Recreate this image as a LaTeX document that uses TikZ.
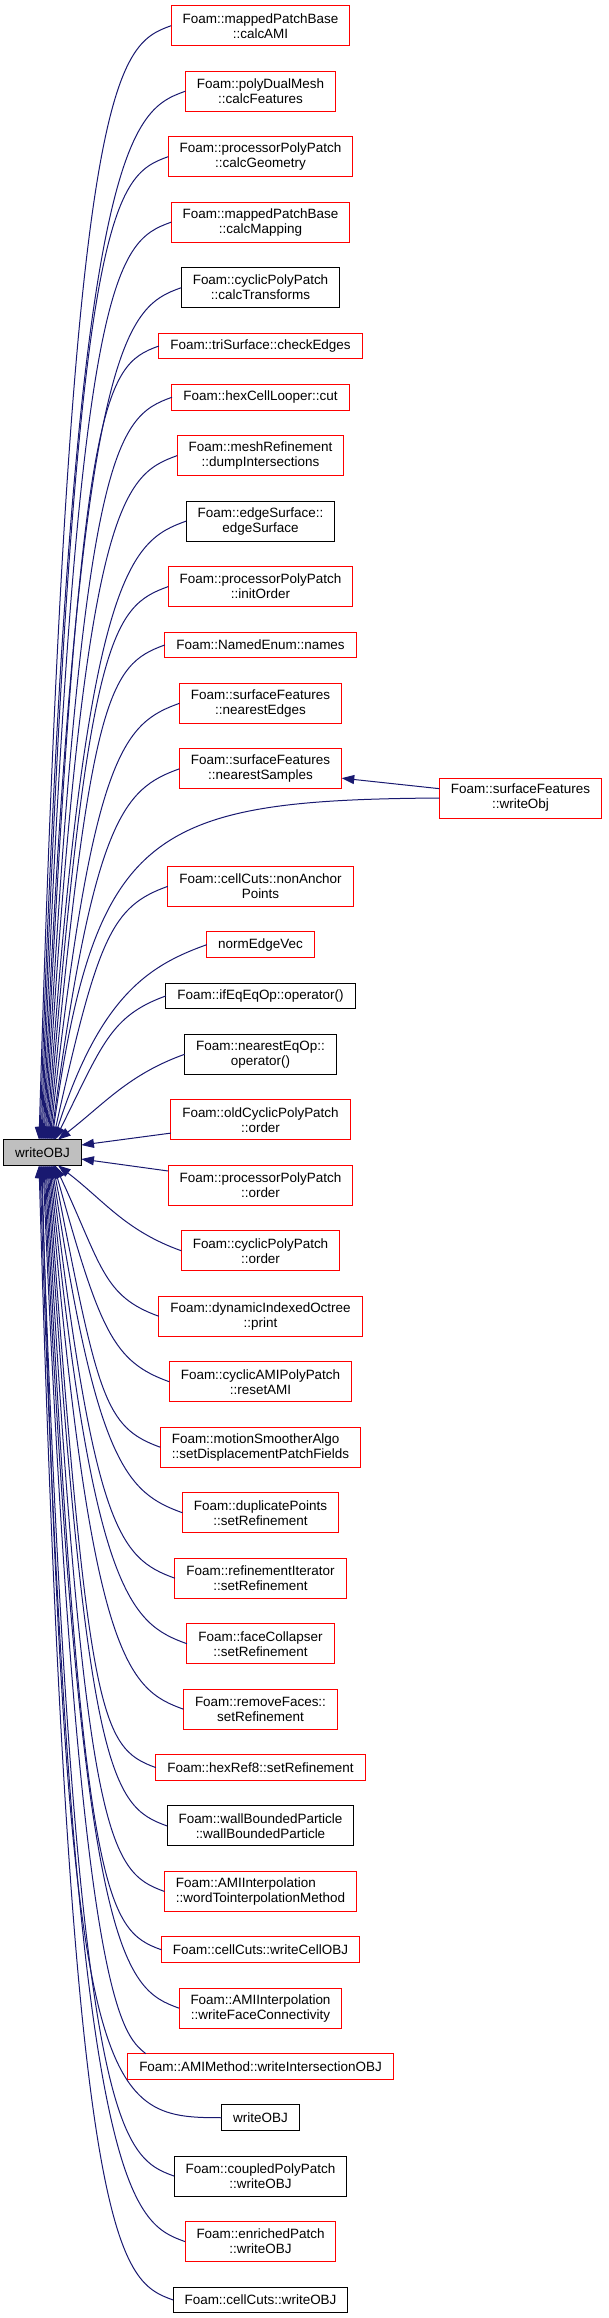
\documentclass[tikz,border=0pt]{standalone}
\usepackage{fontspec}
\setmainfont{Liberation Sans}
\usetikzlibrary{arrows.meta, positioning, calc}
\definecolor{edgeblue}{RGB}{25,25,112}
\definecolor{fnred}{RGB}{255,0,0}
\definecolor{fngray}{RGB}{191,191,191}

\begin{document}
\begin{tikzpicture}[x=0.75pt, y=-0.75pt,
  fn/.style={rectangle, draw=fnred, line width=0.75pt, inner xsep=8.6pt, inner ysep=2pt, minimum height=19.3pt, outer sep=0pt, align=center, font=\fontsize{10.1}{11.25}\selectfont},
  fndoc/.style={fn, draw=black},
  two/.style={minimum height=30pt},
  cur/.style={fn, draw=black, fill=fngray},
  arr/.style={-{Triangle[length=9.5pt, width=6.75pt]}, draw=edgeblue, line width=0.75pt}
]
\useasboundingbox (0,0) rectangle (608,2318);
\node[cur] (writeobj) at (42.5,1152.5) {writeOBJ};
\node[fn, two] (ami) at (260.5,25.7) {Foam::mappedPatchBase\\::calcAMI};
\node[fn, two, below=19.12pt of ami] (feat) {Foam::polyDualMesh\\::calcFeatures};
\node[fn, two, below=19.12pt of feat] (geom) {Foam::processorPolyPatch\\::calcGeometry};
\node[fn, two, below=19.12pt of geom] (map) {Foam::mappedPatchBase\\::calcMapping};
\node[fndoc, two, below=19.12pt of map] (trans) {Foam::cyclicPolyPatch\\::calcTransforms};
\node[fn, below=19.12pt of trans] (chk) {Foam::triSurface::checkEdges};
\node[fn, below=19.12pt of chk] (cut) {Foam::hexCellLooper::cut};
\node[fn, two, below=19.12pt of cut] (dump) {Foam::meshRefinement\\::dumpIntersections};
\node[fndoc, two, below=19.12pt of dump] (esurf) {Foam::edgeSurface::\\edgeSurface};
\node[fn, two, below=19.12pt of esurf] (init) {Foam::processorPolyPatch\\::initOrder};
\node[fn, below=19.12pt of init] (names) {Foam::NamedEnum::names};
\node[fn, two, below=19.12pt of names] (nedge) {Foam::surfaceFeatures\\::nearestEdges};
\node[fn, two, below=19.12pt of nedge] (nsamp) {Foam::surfaceFeatures\\::nearestSamples};
\node[fn, two, below=58.13pt of nsamp] (nanch) {Foam::cellCuts::nonAnchor\\Points};
\node[fn, below=19.12pt of nanch] (nev) {normEdgeVec};
\node[fndoc, below=19.12pt of nev] (ifeq) {Foam::ifEqEqOp::operator()};
\node[fndoc, two, below=19.12pt of ifeq] (neareq) {Foam::nearestEqOp::\\operator()};
\node[fn, two, below=19.12pt of neareq] (oldord) {Foam::oldCyclicPolyPatch\\::order};
\node[fn, two, below=19.12pt of oldord] (procord) {Foam::processorPolyPatch\\::order};
\node[fn, two, below=19.12pt of procord] (cycord) {Foam::cyclicPolyPatch\\::order};
\node[fn, two, below=19.12pt of cycord] (print) {Foam::dynamicIndexedOctree\\::print};
\node[fn, two, below=19.12pt of print] (reset) {Foam::cyclicAMIPolyPatch\\::resetAMI};
\node[fn, two, align=left, below=19.12pt of reset] (disp) {Foam::motionSmootherAlgo\\::setDisplacementPatchFields};
\node[fn, two, below=19.12pt of disp] (dupref) {Foam::duplicatePoints\\::setRefinement};
\node[fn, two, below=19.12pt of dupref] (iterref) {Foam::refinementIterator\\::setRefinement};
\node[fn, two, below=19.12pt of iterref] (collref) {Foam::faceCollapser\\::setRefinement};
\node[fn, two, below=19.12pt of collref] (remref) {Foam::removeFaces::\\setRefinement};
\node[fn, below=19.12pt of remref] (hexref) {Foam::hexRef8::setRefinement};
\node[fndoc, two, below=19.12pt of hexref] (wbp) {Foam::wallBoundedParticle\\::wallBoundedParticle};
\node[fn, two, align=left, below=19.12pt of wbp] (wordto) {Foam::AMIInterpolation\\::wordTointerpolationMethod};
\node[fn, below=19.12pt of wordto] (cellobj) {Foam::cellCuts::writeCellOBJ};
\node[fn, two, below=19.12pt of cellobj] (faceconn) {Foam::AMIInterpolation\\::writeFaceConnectivity};
\node[fn, below=19.12pt of faceconn] (isect) {Foam::AMIMethod::writeIntersectionOBJ};
\node[fndoc, below=19.12pt of isect] (wobj) {writeOBJ};
\node[fndoc, two, below=19.12pt of wobj] (coupobj) {Foam::coupledPolyPatch\\::writeOBJ};
\node[fn, two, below=19.12pt of coupobj] (enrobj) {Foam::enrichedPatch\\::writeOBJ};
\node[fndoc, below=19.12pt of enrobj] (cutobj) {Foam::cellCuts::writeOBJ};
\node[fn, two] (sfobj) at (520.5,798) {Foam::surfaceFeatures\\::writeObj};
% callers above
\draw[arr] (ami.west) .. controls +(-56,20) and (70,75.7) .. ([xshift=-2.6pt]writeobj.north);
\draw[arr] (feat.west) .. controls +(-56,20) and (72,141.2) .. ([xshift=-1.9pt]writeobj.north);
\draw[arr] (geom.west) .. controls +(-56,20) and (74,206.7) .. ([xshift=-1.1pt]writeobj.north);
\draw[arr] (map.west) .. controls +(-56,20) and (76,272.2) .. ([xshift=-0.4pt]writeobj.north);
\draw[arr] (trans.west) .. controls +(-56,20) and (78,337.7) .. ([xshift=0.4pt]writeobj.north);
\draw[arr] (chk.west) .. controls +(-56,20) and (80,396) .. ([xshift=1.1pt]writeobj.north);
\draw[arr] (cut.west) .. controls +(-56,20) and (82,447.2) .. ([xshift=1.9pt]writeobj.north);
\draw[arr] (dump.west) .. controls +(-56,20) and (84,505.5) .. ([xshift=2.6pt]writeobj.north);
\draw[arr] (esurf.west) .. controls +(-56,20) and (86,571) .. ([xshift=3.4pt]writeobj.north);
\draw[arr] (init.west) .. controls +(-56,20) and (88,636.5) .. ([xshift=4.1pt]writeobj.north);
\draw[arr] (names.west) .. controls +(-56,20) and (90,694.9) .. ([xshift=4.9pt]writeobj.north);
\draw[arr] (nedge.west) .. controls +(-56,20) and (92,753.2) .. ([xshift=5.6pt]writeobj.north);
\draw[arr] (nsamp.west) .. controls +(-56,20) and (94,818.7) .. ([xshift=6.4pt]writeobj.north);
\draw[arr] (sfobj.west) .. controls +(-289,2) and (95,830) .. ([xshift=7.1pt]writeobj.north);
\draw[arr] (nanch.west) .. controls +(-56,20) and (98,936.2) .. ([xshift=7.9pt]writeobj.north);
\draw[arr] (nev.west) .. controls +(-56,20) and (100,994.5) .. ([xshift=8.6pt]writeobj.north);
\draw[arr] (ifeq.west) .. controls +(-56,20) and (102,1045.7) .. ([xshift=9.4pt]writeobj.north);
\draw[arr] (neareq.west) .. controls +(-56,20) and (104,1104.1) .. ([xshift=11.6pt]writeobj.north);
\draw[arr] ([yshift=-10pt]oldord.west) -- ([yshift=5.6pt]writeobj.east);
\draw[arr] ([yshift=10.7pt]procord.west) -- ([yshift=-4.9pt]writeobj.east);
% callers below
\draw[arr] (cycord.west) .. controls +(-56,-20) and (104,1200.5) .. ([xshift=11.6pt]writeobj.south);
\draw[arr] (print.west) .. controls +(-56,-20) and (102,1266) .. ([xshift=9.4pt]writeobj.south);
\draw[arr] (reset.west) .. controls +(-56,-20) and (100,1331.5) .. ([xshift=8.6pt]writeobj.south);
\draw[arr] (disp.west) .. controls +(-56,-20) and (98,1397) .. ([xshift=7.9pt]writeobj.south);
\draw[arr] (dupref.west) .. controls +(-56,-20) and (96,1462.5) .. ([xshift=7.1pt]writeobj.south);
\draw[arr] (iterref.west) .. controls +(-56,-20) and (94,1528) .. ([xshift=6.4pt]writeobj.south);
\draw[arr] (collref.west) .. controls +(-56,-20) and (92,1593.5) .. ([xshift=5.6pt]writeobj.south);
\draw[arr] (remref.west) .. controls +(-56,-20) and (90,1659) .. ([xshift=4.9pt]writeobj.south);
\draw[arr] (hexref.west) .. controls +(-56,-20) and (88,1717.3) .. ([xshift=4.1pt]writeobj.south);
\draw[arr] (wbp.west) .. controls +(-56,-20) and (86,1775.6) .. ([xshift=3.4pt]writeobj.south);
\draw[arr] (wordto.west) .. controls +(-56,-20) and (84,1841.1) .. ([xshift=2.6pt]writeobj.south);
\draw[arr] (cellobj.west) .. controls +(-56,-20) and (82,1899.5) .. ([xshift=1.9pt]writeobj.south);
\draw[arr] (faceconn.west) .. controls +(-56,-20) and (80,1957.8) .. ([xshift=1.1pt]writeobj.south);
\draw[arr] ([xshift=13.5pt]isect.north west) .. controls +(-25,-20) and (78,2000) .. ([xshift=0.4pt]writeobj.south);
\draw[arr] (wobj.west) .. controls +(-120,0) and (66,2105) .. ([xshift=-0.4pt]writeobj.south);
\draw[arr] (coupobj.west) .. controls +(-56,-20) and (74,2125.7) .. ([xshift=-1.1pt]writeobj.south);
\draw[arr] (enrobj.west) .. controls +(-56,-20) and (72,2191.2) .. ([xshift=-1.9pt]writeobj.south);
\draw[arr] (cutobj.west) .. controls +(-56,-20) and (70,2249.5) .. ([xshift=-2.6pt]writeobj.south);
% surfaceFeatures::writeObj
\draw[arr] ([yshift=7pt]sfobj.west) -- ([yshift=-7pt]nsamp.east);
\end{tikzpicture}
\end{document}
